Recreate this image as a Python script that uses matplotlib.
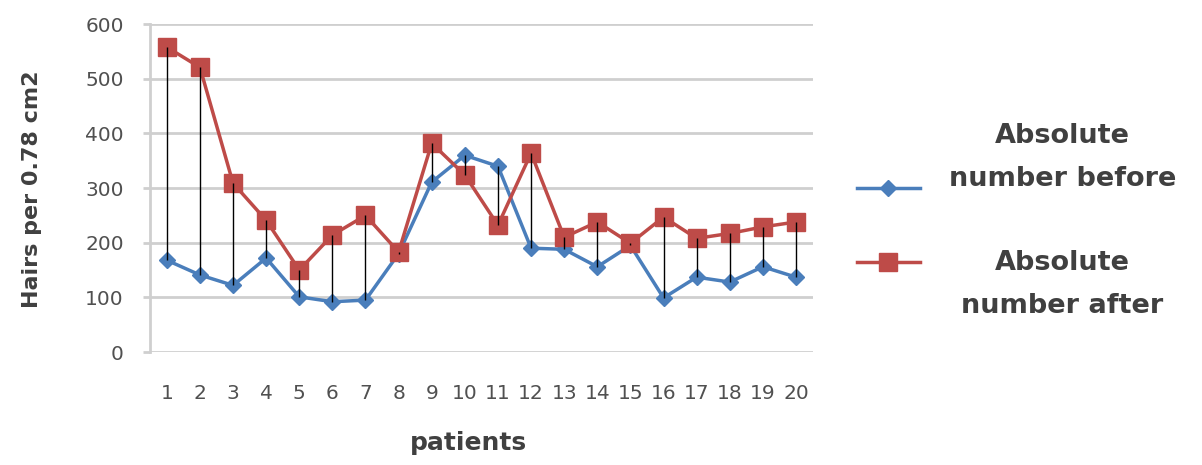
import matplotlib
matplotlib.use("Agg")
import matplotlib.pyplot as plt
from matplotlib.lines import Line2D
import numpy as np

plt.rcParams['font.family'] = ['DejaVu Sans']

patients = list(range(1, 21))
before = [168, 141, 122, 172, 101, 92, 95, 180, 311, 360,
          340, 190, 188, 156, 195, 99, 137, 128, 156, 137]
after = [558, 521, 309, 241, 150, 214, 250, 183, 382, 324,
         232, 364, 210, 238, 199, 247, 208, 217, 229, 238]
yticks = [0, 100, 200, 300, 400, 500, 600]
labels = ['Absolute\nnumber before', 'Absolute\nnumber after']

blue = '#4A7EBB'
red = '#BE4B48'
txt = '#404040'
grid = '#CFCFCF'

fig = plt.figure(figsize=(12.02, 4.65), dpi=100)
ax = fig.add_axes([0.125, 0.243, 0.551, 0.705])

# high-low lines between the two series
ax.vlines(patients, np.minimum(before, after), np.maximum(before, after),
          color='black', linewidth=1, zorder=5)

ax.plot(patients, before, color=blue, linewidth=2.5, marker='D', markersize=8,
        zorder=3)
ax.plot(patients, after, color=red, linewidth=2.5, marker='s', markersize=13,
        zorder=4)

ax.set_xlim(0.5, 20.5)
ax.set_ylim(0, 600)
ax.set_yticks(yticks)
ax.set_xticks(patients)
ax.grid(axis='y', color=grid, linewidth=2)
ax.set_axisbelow(True)
for s in ['top', 'right', 'bottom']:
    ax.spines[s].set_visible(False)
ax.spines['left'].set_color(grid)
ax.spines['left'].set_linewidth(2)
ax.tick_params(axis='y', length=5, width=2, color=grid, labelsize=14.5,
               labelcolor='#505050', pad=14)
ax.tick_params(axis='x', length=0, labelsize=14.5, labelcolor='#505050', pad=23)

ax.set_ylabel('Hairs per 0.78 cm2', fontsize=16, fontweight='bold', color=txt)
ax.yaxis.set_label_coords(-0.163, 0.497)
ax.set_xlabel('patients', fontsize=18, fontweight='bold', color=txt)
ax.xaxis.set_label_coords(0.481, -0.241)

# legend, laid out like the spreadsheet one
for (col, mk, ms), ly, lab, ty in zip([(blue, 'D', 8), (red, 's', 13)],
                                      [0.596, 0.437], labels, [0.661, 0.389]):
    fig.add_artist(Line2D([0.713, 0.765], [ly, ly], color=col, linewidth=2.5))
    fig.add_artist(Line2D([0.739], [ly], color=col, marker=mk, markersize=ms))
    fig.text(0.884, ty, lab, ha='center', va='center', fontsize=19.5,
             fontweight='bold', color=txt, linespacing=1.85)

fig.savefig('out.png', dpi=100)
